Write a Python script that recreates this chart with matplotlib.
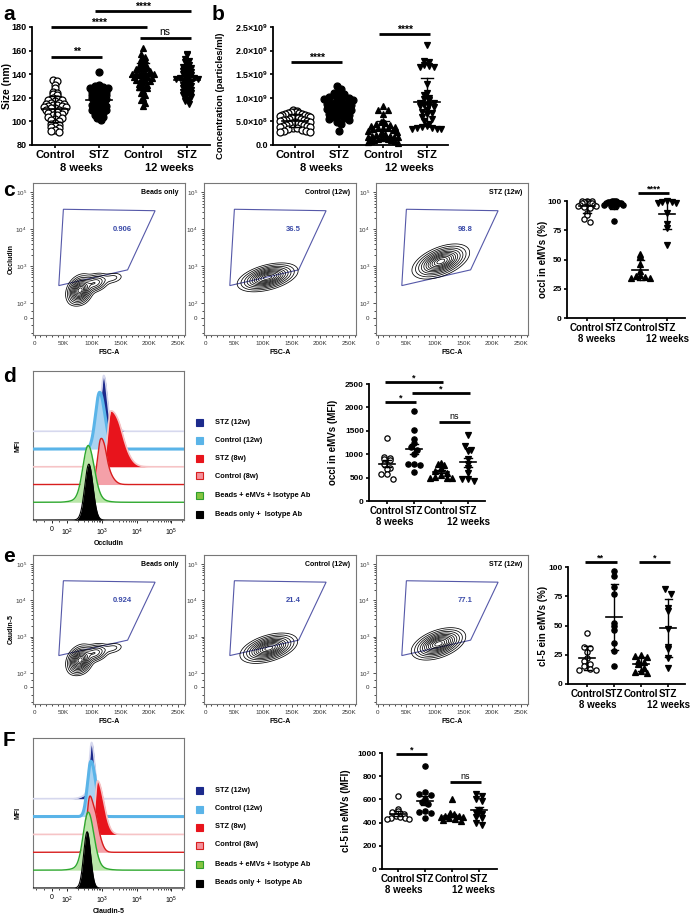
import numpy as np
import matplotlib
matplotlib.use("Agg")
import matplotlib.pyplot as plt
from matplotlib.patches import Polygon, Rectangle
from matplotlib.ticker import MultipleLocator, FixedLocator, NullFormatter

plt.rcParams['font.family'] = ['Liberation Sans', 'DejaVu Sans']
plt.rcParams['mathtext.fontset'] = 'custom'
plt.rcParams['mathtext.rm'] = 'Liberation Sans'
plt.rcParams['mathtext.bf'] = 'Liberation Sans:bold'

W, H = 690, 914
fig = plt.figure(figsize=(W / 100, H / 100), dpi=100)

# ---------------- data ----------------
groups = ['Control', 'STZ', 'Control', 'STZ']
weeks = ['8 weeks', '12 weeks']

# a: EV size (nm)
size_ctrl8 = [135, 134, 131, 128, 125, 124, 123, 122, 120, 119, 118, 118, 117, 116, 116, 115, 115,
              114, 114, 113, 113, 112, 112, 111, 111, 110, 110, 109, 108, 108, 107, 106, 105, 105,
              104, 103, 102, 101, 100, 99, 98, 97, 96, 95, 94, 93, 92, 91]
size_stz8 = [142, 131, 130, 130, 129, 128, 128, 127, 126, 125, 125, 124, 123, 122, 122, 121, 120,
             120, 119, 118, 117, 116, 115, 115, 114, 113, 112, 111, 110, 110, 109, 108, 107, 106,
             105, 104, 103, 101]
size_ctrl12 = [162, 157, 155, 153, 152, 150, 149, 148, 147, 146, 145, 145, 144, 143, 142, 142, 141,
               141, 140, 140, 139, 139, 138, 138, 137, 136, 135, 135, 134, 133, 132, 131, 130, 129,
               128, 126, 124, 122, 120, 118, 116, 113]
size_stz12 = [157, 156, 153, 151, 150, 148, 147, 146, 145, 144, 143, 142, 141, 140, 139, 138, 138,
              137, 137, 136, 136, 135, 134, 133, 132, 131, 130, 129, 128, 127, 126, 125, 124, 123,
              122, 121, 120, 118, 117, 115]

# b: concentration (x 1e8 particles/ml)
conc_ctrl8 = [7.5, 7.2, 7.0, 7.0, 6.9, 6.8, 6.7, 6.6, 6.5, 6.4, 6.3, 6.2, 6.1, 6.0, 5.9, 5.8, 5.7,
              5.6, 5.5, 5.4, 5.3, 5.2, 5.1, 5.0, 4.9, 4.8, 4.7, 4.6, 4.5, 4.4, 4.3, 4.2, 4.1, 4.0,
              3.9, 3.8, 3.6, 3.5, 3.3, 3.1, 3.0, 2.9, 2.8, 2.7]
conc_stz8 = [12.5, 11.8, 11.5, 11.0, 10.8, 10.6, 10.5, 10.3, 10.2, 10.0, 9.8, 9.6, 9.5, 9.3, 9.0,
             8.8, 8.6, 8.5, 8.3, 8.1, 8.0, 7.8, 7.6, 7.4, 7.2, 7.0, 6.8, 6.6, 6.4, 6.2, 6.0, 5.8,
             5.5, 5.2, 4.8, 4.5, 3.0]
conc_ctrl12 = [8.2, 7.5, 7.4, 6.5, 5.0, 4.8, 4.6, 4.4, 4.2, 4.0, 3.8, 3.7, 3.6, 3.5, 3.3, 3.1, 3.0,
               2.8, 2.6, 2.4, 2.2, 2.0, 1.9, 1.8, 1.7, 1.6, 1.5, 1.4, 1.3, 1.2, 1.1, 1.0, 0.9, 0.8,
               0.6, 0.5]
conc_stz12 = [21.2, 17.7, 17.6, 17.0, 16.7, 16.6, 16.5, 13.0, 11.0, 10.5, 10.0, 9.8, 9.5, 9.0, 8.8,
              8.5, 8.4, 8.2, 8.0, 7.5, 7.0, 6.8, 6.5, 6.0, 5.5, 5.0, 4.5, 4.0, 3.8, 3.6, 3.5, 3.4,
              3.3, 3.3]

# c: occludin positive eMVs (%)
occl_pct_ctrl8 = [100, 100, 100, 99, 99, 99, 98, 98, 98, 97, 97, 96, 96, 95, 94, 90, 88, 85, 82]
occl_pct_stz8 = [100, 100, 100, 99, 99, 99, 98, 98, 98, 97, 97, 96, 96, 83]
occl_pct_ctrl12 = [55, 53, 46, 40, 37, 36, 35, 34, 34]
occl_pct_stz12 = [100, 99, 99, 98, 98, 90, 80, 77, 62]

# d: occludin MFI
occl_mfi_ctrl8 = [1340, 950, 920, 900, 870, 800, 700, 680, 580, 570, 480]
occl_mfi_stz8 = [1920, 1520, 1320, 1250, 1150, 1100, 1000, 800, 780, 770, 620]
occl_mfi_ctrl12 = [820, 800, 760, 700, 650, 600, 560, 520, 500, 500, 490]
occl_mfi_stz12 = [1400, 1170, 1070, 1100, 900, 800, 700, 600, 470, 470, 430]

# e: claudin-5 positive eMVs (%)
cl5_pct_ctrl8 = [44, 32, 31, 27, 22, 20, 17, 15, 13, 12, 12]
cl5_pct_stz8 = [97, 92, 83, 77, 52, 50, 46, 35, 28, 15]
cl5_pct_ctrl12 = [25, 24, 23, 20, 19, 17, 14, 11, 10, 9]
cl5_pct_stz12 = [81, 77, 65, 62, 47, 32, 30, 22, 14]

# F: claudin-5 MFI
cl5_mfi_ctrl8 = [630, 520, 500, 490, 470, 460, 450, 440, 440, 430, 430]
cl5_mfi_stz8 = [890, 660, 650, 640, 600, 580, 560, 500, 490, 480, 440]
cl5_mfi_ctrl12 = [600, 480, 470, 460, 460, 450, 450, 440, 430, 420, 410]
cl5_mfi_stz12 = [650, 630, 600, 590, 500, 480, 470, 450, 440, 400, 380]

# significance: (group from, group to, height, label)
sig_a = [(0, 1, 155, '**'), (0, 2, 180, '****'), (1, 3, 193.5, '****'), (2, 3, 171, 'ns')]
sig_b = [(0, 1, 1.76e9, '****'), (2, 3, 2.35e9, '****')]
sig_c = [(2, 3, 107, '****')]
sig_d = [(0, 2, 2545, '*'), (0, 1, 2115, '*'), (1, 3, 2310, '*'), (2, 3, 1690, 'ns')]
sig_e = [(0, 1, 104, '**'), (2, 3, 104, '*')]
sig_f = [(0, 1, 990, '*'), (2, 3, 750, 'ns')]

# flow plots: gate, percentages, contour blobs (x, log10 y, sd x, sd log y, rho, weight)
gate_pts = [(50e3, 3.5e4), (210e3, 3.2e4), (162e3, 800), (42e3, 300)]
flow_titles = ['Beads only', 'Control (12w)', 'STZ (12w)']
pct_c = ['0.906', '36.5', '98.8']
pct_e = ['0.924', '21.4', '77.1']
beads_blobs = [(79e3, 2.35, 9e3, 0.16, 0.25, 1.0), (105e3, 2.55, 10e3, 0.11, 0.3, 0.35),
               (135e3, 2.68, 10e3, 0.08, 0.3, 0.07)]
c_ctrl_blobs = [(108e3, 2.7, 19e3, 0.14, 0.45, 1.0)]
c_stz_blobs = [(110e3, 3.13, 18e3, 0.17, 0.5, 1.0)]
e_ctrl_blobs = [(110e3, 2.68, 18e3, 0.15, 0.45, 1.0)]
e_stz_blobs = [(106e3, 2.8, 17e3, 0.16, 0.45, 1.0)]

# histograms (bottom to top): peaks as (log10 centre, sd left, sd right, weight), peak heights
hist_names = ['Beads only +  Isotype Ab', 'Beads + eMVs + Isotype Ab', 'Control (8w)',
              'STZ (8w)', 'Control (12w)', 'STZ (12w)']
hist_d_peaks = [[(2.62, 0.12, 0.12, 1.0)],
                [(2.6, 0.15, 0.17, 1.0), (2.6, 0.3, 0.32, 0.1)],
                [(2.96, 0.09, 0.12, 1.0), (3.12, 0.08, 0.17, 0.3)],
                [(3.25, 0.09, 0.25, 1.0), (3.55, 0.13, 0.24, 0.2), (2.93, 0.03, 0.03, 0.08)],
                [(2.93, 0.12, 0.15, 1.0)],
                [(3.05, 0.08, 0.1, 1.0), (2.86, 0.04, 0.04, 0.1), (3.5, 0.07, 0.07, 0.04)]]
hist_d_heights = [3.15, 3.2, 2.6, 3.15, 3.2, 3.15]
hist_f_peaks = [[(2.57, 0.1, 0.1, 1.0)],
                [(2.6, 0.14, 0.16, 1.0), (2.6, 0.28, 0.32, 0.1)],
                [(2.65, 0.09, 0.13, 1.0), (2.85, 0.07, 0.13, 0.3)],
                [(2.87, 0.07, 0.18, 1.0)],
                [(2.68, 0.1, 0.14, 1.0)],
                [(2.7, 0.07, 0.09, 1.0), (2.6, 0.16, 0.16, 0.08)]]
hist_f_heights = [3.15, 3.25, 3.15, 3.0, 3.1, 3.15]

# ---------------- styles ----------------
hist_fill = ['black', '#b9e6a8', '#f4a0a8', '#e8141c', '#a9d3f2', '#1c2a8c']
hist_line = ['black', '#2ea82e', '#d81e1e', '#f6c4c6', '#5ab4e8', '#d6d8ee']
hist_lw = [0.8, 1.0, 1.0, 1.2, 2.2, 1.2]
leg_face = ['black', '#86c440', '#f4909a', '#e8141c', '#5ab4e8', '#1c2a8c']
leg_edge = ['black', '#2e9e2e', '#d81e1e', '#e8141c', '#5ab4e8', '#1c2a8c']
gate_col = '#5558a8'


def add_ax(x0, y0, x1, y1):
    return fig.add_axes([x0 / W, 1 - y1 / H, (x1 - x0) / W, (y1 - y0) / H])


def swarm(vals, bin_h, dx, half):
    vals = np.asarray(vals, float)
    offs = np.zeros(len(vals))
    bins = np.floor((vals - vals.min()) / bin_h).astype(int)
    for b in np.unique(bins):
        idx = np.where(bins == b)[0]
        k = len(idx)
        step = min(dx, 2 * half / max(k - 1, 1))
        pos = (np.arange(k) - (k - 1) / 2) * step
        pos = pos[np.argsort(np.abs(pos), kind='stable')]
        offs[idx] = pos
    return offs


def scatter_panel(ax, data, err, ylim, yticks, ytlabels, ylabel, xlim, week_x, sig,
                  ms, bin_h, dx, half, fs_x, fs_y, fs_lab, lab_xy):
    markers = ['o', 'o', '^', 'v']
    opens = [True, False, False, False]
    for i, vals in enumerate(data):
        vals = np.asarray(vals, float)
        off = swarm(vals, bin_h, dx, half)
        ax.plot(i + off, vals, ls='none', marker=markers[i], ms=ms,
                mfc='white' if opens[i] else 'black', mec='black', mew=0.9,
                zorder=3, clip_on=False)
        m = vals.mean()
        e = vals.std(ddof=1)
        if err == 'sem':
            e = e / np.sqrt(len(vals))
        ax.plot([i - 0.3, i + 0.3], [m, m], color='black', lw=1.2, zorder=4)
        ax.plot([i, i], [m - e, m + e], color='black', lw=1.0, zorder=4)
        for yy in (m - e, m + e):
            ax.plot([i - 0.14, i + 0.14], [yy, yy], color='black', lw=1.0, zorder=4)
    ax.set_xlim(*xlim)
    ax.set_ylim(*ylim)
    ax.set_yticks(yticks)
    ax.set_yticklabels(ytlabels, fontweight='bold', fontsize=fs_y)
    ax.set_xticks(range(4))
    ax.set_xticklabels(groups, fontweight='bold', fontsize=fs_x)
    ax.tick_params(length=2.5, width=1.2, pad=1.2)
    for s in ['top', 'right']:
        ax.spines[s].set_visible(False)
    for s in ['left', 'bottom']:
        ax.spines[s].set_linewidth(1.3)
    ax.set_ylabel(ylabel, fontweight='bold', fontsize=fs_lab)
    ax.yaxis.set_label_coords(*lab_xy)
    for wx, wl in zip(week_x, weeks):
        ax.annotate(wl, xy=(wx, 0), xycoords=ax.get_xaxis_transform(),
                    xytext=(0, -(4.5 + fs_x * 1.05)), textcoords='offset points',
                    ha='center', va='top', fontweight='bold', fontsize=fs_x)
    for g0, g1, yv, txt in sig:
        ax.plot([g0 - 0.08, g1 + 0.08], [yv, yv], color='black', lw=2, clip_on=False,
                solid_capstyle='butt')
        ax.annotate(txt, xy=((g0 + g1) / 2, yv), xytext=(0, 0.8 if txt == 'ns' else -0.5),
                    textcoords='offset points', ha='center', va='bottom',
                    fontsize=fs_x - 0.5, fontweight='normal' if txt == 'ns' else 'bold',
                    annotation_clip=False)


def flow_panel(ax, blobs, pct, title, ylabel):
    ax.set_yscale('symlog', linthresh=100, linscale=0.36)
    ax.set_ylim(-115, 1.8e5)
    ax.set_xlim(-3000, 262144)
    xx = np.linspace(20e3, 240e3, 300)
    ly = np.linspace(1.3, 4.9, 300)
    X, L = np.meshgrid(xx, ly)
    Z = np.zeros_like(X)
    for cx, cl, sx, sl, rho, amp in blobs:
        u = (X - cx) / sx
        v = (L - cl) / sl
        Z += amp * np.exp(-(u * u - 2 * rho * u * v + v * v) / (2 * (1 - rho ** 2)))
    fr = np.array([0.02, 0.05, 0.1, 0.17, 0.26, 0.36, 0.47, 0.58, 0.7, 0.82, 0.93])
    ax.contour(X, 10 ** L, Z, levels=Z.max() * fr, colors='black', linewidths=0.55)
    ax.add_patch(Polygon(gate_pts, closed=True, fill=False, ec=gate_col, lw=0.8))
    ax.text(152e3, 1e4, pct, color='#3a4aa8', fontsize=5.5, fontweight='bold',
            ha='center', va='center')
    ax.text(0.96, 0.96, title, transform=ax.transAxes, ha='right', va='top',
            fontsize=5, fontweight='bold')
    ax.set_xticks([0, 50e3, 100e3, 150e3, 200e3, 250e3])
    ax.set_xticklabels(['0', '50K', '100K', '150K', '200K', '250K'], fontsize=4.5)
    ax.xaxis.set_minor_locator(MultipleLocator(10e3))
    ax.yaxis.set_major_locator(FixedLocator([0, 1e2, 1e3, 1e4, 1e5]))
    ax.set_yticklabels(['0', '$10^2$', '$10^3$', '$10^4$', '$10^5$'], fontsize=4.5)
    minors = [-100, -50] + [m * 10 ** d for d in range(2, 6) for m in range(2, 10)]
    ax.yaxis.set_minor_locator(FixedLocator([m for m in minors if m < 1.8e5] + [50]))
    ax.yaxis.set_minor_formatter(NullFormatter())
    ax.tick_params(which='major', length=2.5, width=0.6, pad=2, colors='#333333')
    ax.tick_params(which='minor', length=1.5, width=0.5)
    for s in ax.spines.values():
        s.set_color('#777777')
        s.set_linewidth(0.8)
    ax.set_xlabel('FSC-A', fontsize=5, fontweight='bold', labelpad=2)
    if ylabel:
        ax.set_ylabel(ylabel, fontsize=5, fontweight='bold')
        ax.yaxis.set_label_coords(-0.12, 0.5)


def hist_panel(ax, peaks, heights, xlabel):
    ax.set_xscale('symlog', linthresh=100, linscale=0.41)
    ax.set_xlim(-120, 2.3e5)
    ax.set_ylim(0, 8.4)
    xs = np.concatenate([np.linspace(-130, 99, 40), np.logspace(2, 5.45, 900)])
    lx = np.log10(np.clip(xs, 1, None))
    for i, (pk, h) in enumerate(zip(peaks, heights)):
        dens = np.zeros_like(xs)
        for c, sl, sr, w in pk:
            s = np.where(lx < c, sl, sr)
            dens += w * np.exp(-0.5 * ((lx - c) / s) ** 2)
        y = i + h * dens / dens.max()
        z = 20 - 2 * i
        ax.fill_between(xs, i, y, color=hist_fill[i], lw=0, zorder=z)
        ax.plot(xs, y, color=hist_line[i], lw=hist_lw[i], zorder=z + 1)
    ax.set_yticks([])
    ax.xaxis.set_major_locator(FixedLocator([0, 1e2, 1e3, 1e4, 1e5]))
    ax.set_xticklabels(['0', '$10^2$', '$10^3$', '$10^4$', '$10^5$'], fontsize=5)
    minors = [-100, -50, 50] + [m * 10 ** d for d in range(2, 6) for m in range(2, 10)]
    ax.xaxis.set_minor_locator(FixedLocator([m for m in minors if m < 2.3e5]))
    ax.xaxis.set_minor_formatter(NullFormatter())
    ax.tick_params(which='major', length=2.5, width=0.6, pad=2)
    ax.tick_params(which='minor', length=1.5, width=0.5)
    for s in ax.spines.values():
        s.set_color('#777777')
        s.set_linewidth(0.8)
    ax.set_xlabel(xlabel, fontsize=5, fontweight='bold', labelpad=2)
    ax.set_ylabel('MFI', fontsize=5, fontweight='bold')
    ax.yaxis.set_label_coords(-0.073, 0.5)


def legend_rows(rows_y):
    for i, yy in enumerate(rows_y):
        fig.add_artist(Rectangle((196 / W, 1 - (yy + 3.5) / H), 7 / W, 7 / H,
                                 transform=fig.transFigure, fc=leg_face[5 - i],
                                 ec=leg_edge[5 - i], lw=0.8))
        fig.text(215 / W, 1 - yy / H, hist_names[5 - i], fontsize=5.3, fontweight='bold',
                 va='center', ha='left')


# ---------------- panel a ----------------
ax = add_ax(32, 27, 210, 145)
scatter_panel(ax, [size_ctrl8, size_stz8, size_ctrl12, size_stz12], 'sd', (80, 180),
              [80, 100, 120, 140, 160, 180], ['80', '100', '120', '140', '160', '180'],
              'Size (nm)', (-0.52, 3.52), (0.6, 2.6), sig_a, 5, 3.0, 0.1, 0.3, 8, 6.5, 7.5,
              (-0.112, 0.5))

# ---------------- panel b ----------------
ax = add_ax(273, 27, 448, 145)
conc_data = [np.array(v) * 1e8 for v in [conc_ctrl8, conc_stz8, conc_ctrl12, conc_stz12]]
b_ticks = [0, 5e8, 1e9, 1.5e9, 2e9, 2.5e9]
b_labels = ['0.0', r'$\mathbf{5.0{\times}10^{8}}$', r'$\mathbf{1.0{\times}10^{9}}$',
            r'$\mathbf{1.5{\times}10^{9}}$', r'$\mathbf{2.0{\times}10^{9}}$',
            r'$\mathbf{2.5{\times}10^{9}}$']
scatter_panel(ax, conc_data, 'sd', (0, 2.5e9), b_ticks, b_labels,
              'Concentration (particles/ml)', (-0.5, 3.48), (0.6, 2.6), sig_b,
              5, 1.1e8, 0.11, 0.35, 8, 6.5, 6.8, (-0.275, 0.42))

# ---------------- panel c ----------------
for k, (x0, blobs) in enumerate(zip([33, 204, 376], [beads_blobs, c_ctrl_blobs, c_stz_blobs])):
    ax = add_ax(x0, 183, x0 + 152, 335)
    flow_panel(ax, blobs, pct_c[k], flow_titles[k], 'Occludin' if k == 0 else None)
ax = add_ax(567, 201, 685, 318)
scatter_panel(ax, [occl_pct_ctrl8, occl_pct_stz8, occl_pct_ctrl12, occl_pct_stz12], 'sd',
              (0, 100), [0, 25, 50, 75, 100], ['0', '25', '50', '75', '100'],
              'occl in eMVs (%)', (-0.75, 3.67), (0.37, 3.0), sig_c, 3.8, 3.5, 0.2, 0.35,
              7, 6, 7, (-0.16, 0.5))

# ---------------- panel d ----------------
ax = add_ax(33, 371, 184, 520)
hist_panel(ax, hist_d_peaks, hist_d_heights, 'Occludin')
legend_rows([422, 440, 458, 476, 495, 514])
ax = add_ax(369, 384, 485, 501)
scatter_panel(ax, [occl_mfi_ctrl8, occl_mfi_stz8, occl_mfi_ctrl12, occl_mfi_stz12], 'sem',
              (0, 2500), [0, 500, 1000, 1500, 2000, 2500],
              ['0', '500', '1000', '1500', '2000', '2500'],
              'occl in eMVs (MFI)', (-0.67, 3.63), (0.3, 3.0), sig_d, 3.8, 110, 0.22, 0.42,
              7, 6, 7, (-0.27, 0.5))

# ---------------- panel e ----------------
for k, (x0, blobs) in enumerate(zip([33, 204, 376], [beads_blobs, e_ctrl_blobs, e_stz_blobs])):
    ax = add_ax(x0, 555, x0 + 152, 704)
    flow_panel(ax, blobs, pct_e[k], flow_titles[k], 'Caudin-5' if k == 0 else None)
ax = add_ax(568, 567, 685, 684)
scatter_panel(ax, [cl5_pct_ctrl8, cl5_pct_stz8, cl5_pct_ctrl12, cl5_pct_stz12], 'sd',
              (0, 100), [0, 25, 50, 75, 100], ['0', '25', '50', '75', '100'],
              'cl-5 ein eMVs (%)', (-0.72, 3.62), (0.37, 3.0), sig_e, 3.8, 4.5, 0.22, 0.42,
              7, 6, 7, (-0.17, 0.5))

# ---------------- panel F ----------------
ax = add_ax(33, 738, 184, 888)
hist_panel(ax, hist_f_peaks, hist_f_heights, 'Claudin-5')
legend_rows([790, 809, 827, 845, 864, 883])
ax = add_ax(382, 753, 497, 869)
scatter_panel(ax, [cl5_mfi_ctrl8, cl5_mfi_stz8, cl5_mfi_ctrl12, cl5_mfi_stz12], 'sem',
              (0, 1000), [0, 200, 400, 600, 800, 1000],
              ['0', '200', '400', '600', '800', '1000'],
              'cl-5 in eMVs (MFI)', (-0.59, 3.67), (0.2, 2.8), sig_f, 3.8, 40, 0.22, 0.42,
              7, 6, 7, (-0.27, 0.5))

# panel letters
for txt, (px, py) in zip(['a', 'b', 'c', 'd', 'e', 'F'],
                         [(3, 14), (212, 14), (3, 190), (3, 376), (3, 557), (3, 741)]):
    fig.text(px / W, 1 - py / H, txt, fontsize=15, fontweight='bold', va='center', ha='left')

fig.savefig('out.png', dpi=100)
